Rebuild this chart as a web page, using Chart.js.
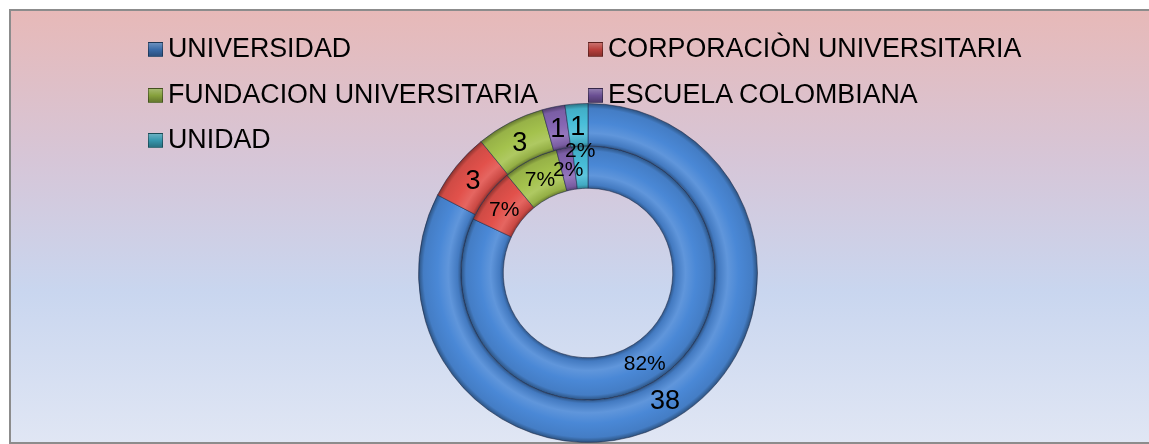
<!DOCTYPE html>
<html>
<head>
<meta charset="utf-8">
<script src="https://cdn.jsdelivr.net/npm/chart.js@4.4.0/dist/chart.umd.min.js"></script>
<style>
html,body{margin:0;padding:0;background:#fff;overflow:hidden;}
#wrap{position:relative;width:1149px;height:444px;overflow:hidden;font-family:"Liberation Sans",Arial,sans-serif;}
#frame{position:absolute;left:9px;top:9px;width:1200px;height:431px;border:2px solid #8c8c8c;border-right:none;
  background:linear-gradient(to bottom,#E7B9B8 0%,#D6C6D8 35%,#C9D6EF 65%,#E0E6F4 100%);}
#c{position:absolute;left:0;top:0;}
.mk{position:absolute;width:13px;height:13px;border:1px solid rgba(0,0,0,0.35);box-sizing:content-box;}
.tx{position:absolute;font-size:26.8px;line-height:30px;color:#000;white-space:nowrap;}
</style>
</head>
<body>
<div id="wrap">
  <div id="frame"></div>
  <canvas id="c" width="1149" height="444"></canvas>
  <div id="legend"></div>
</div>
<script>
// ---- data ----
const categories = ['UNIVERSIDAD', 'CORPORACIÒN UNIVERSITARIA', 'FUNDACION UNIVERSITARIA', 'ESCUELA COLOMBIANA', 'UNIDAD'];
const counts = [38, 3, 3, 1, 1];
const percents = [82, 7, 7, 2, 2];

// ---- styles ----
const baseColors = ['#4A88D6', '#E2514B', '#A4C24D', '#8666B3', '#48BDD8'];
const markerColors = ['#3A6BA8', '#B8403C', '#86A03C', '#6A4F93', '#3596AD'];

function shade(hex, f) {
  const n = parseInt(hex.slice(1), 16);
  let r = (n >> 16) & 255, g = (n >> 8) & 255, b = n & 255;
  if (f < 0) { r = r * (1 + f); g = g * (1 + f); b = b * (1 + f); }
  else { r = r + (255 - r) * f; g = g + (255 - g) * f; b = b + (255 - b) * f; }
  return `rgb(${Math.round(r)},${Math.round(g)},${Math.round(b)})`;
}

// legend (HTML)
const legendEl = document.getElementById('legend');
const colX = [148, 588];
const rowTop = [33, 78.5, 124];
categories.forEach((name, i) => {
  const col = i % 2, row = Math.floor(i / 2);
  const mk = document.createElement('div');
  mk.className = 'mk';
  mk.style.left = colX[col] + 'px';
  mk.style.top = (rowTop[row] + 9) + 'px';
  mk.style.background = `linear-gradient(to bottom, ${shade(markerColors[i], 0.25)} 0%, ${markerColors[i]} 50%, ${shade(markerColors[i], -0.25)} 100%)`;
  legendEl.appendChild(mk);
  const tx = document.createElement('div');
  tx.className = 'tx';
  tx.style.left = (colX[col] + 20) + 'px';
  tx.style.top = rowTop[row] + 'px';
  tx.textContent = name;
  legendEl.appendChild(tx);
});

function ringFill(ctx) {
  const i = ctx.dataIndex;
  const base = baseColors[i];
  const chart = ctx.chart;
  const a = chart.chartArea;
  const meta = chart.getDatasetMeta(ctx.datasetIndex);
  const ctrl = meta && meta.controller;
  if (!a || !ctrl || !ctrl.outerRadius) return base;
  const cx = (a.left + a.right) / 2 + (ctrl.offsetX || 0);
  const cy = (a.top + a.bottom) / 2 + (ctrl.offsetY || 0);
  const r0 = ctrl.innerRadius, r1 = ctrl.outerRadius;
  const g = chart.ctx.createRadialGradient(cx, cy, r0, cx, cy, r1);
  g.addColorStop(0, shade(base, -0.35));
  g.addColorStop(0.08, shade(base, -0.1));
  g.addColorStop(0.3, shade(base, 0.12));
  g.addColorStop(0.55, base);
  g.addColorStop(0.88, shade(base, -0.08));
  g.addColorStop(1, shade(base, -0.4));
  return g;
}

const labelPlugin = {
  id: 'ringLabels',
  afterDatasetsDraw(chart) {
    const c = chart.ctx;
    c.save();
    c.fillStyle = '#000';
    c.textAlign = 'center';
    c.textBaseline = 'middle';
    chart.data.datasets.forEach((ds, di) => {
      const meta = chart.getDatasetMeta(di);
      const fs = di === 0 ? 27 : 21;
      c.font = fs + 'px "Liberation Sans", Arial, sans-serif';
      const placed = [];
      meta.data.forEach((arc, j) => {
        const p = arc.getProps(['x', 'y', 'startAngle', 'endAngle', 'innerRadius', 'outerRadius'], true);
        const mid = (p.startAngle + p.endAngle) / 2;
        const txt = di === 0 ? String(ds.data[j]) : ds.data[j] + '%';
        const w = c.measureText(txt).width * 0.85;
        const h = fs * 0.9;
        let r = (p.innerRadius + p.outerRadius) / 2;
        let x, y, tries = 0;
        while (true) {
          x = p.x + Math.cos(mid) * r;
          y = p.y + Math.sin(mid) * r;
          const hit = placed.some(b => Math.abs(b.x - x) < (b.w + w) / 2 && Math.abs(b.y - y) < (b.h + h) / 2);
          if (!hit || tries > 60) break;
          r += 1; tries++;
        }
        placed.push({x, y, w, h});
        c.fillText(txt, x, y + fs * 0.08);
      });
    });
    c.restore();
  }
};

new Chart(document.getElementById('c'), {
  type: 'doughnut',
  data: {
    labels: categories,
    datasets: [
      { data: counts, backgroundColor: ringFill, borderColor: 'rgba(30,40,70,0.55)', borderWidth: 1 },
      { data: percents, backgroundColor: ringFill, borderColor: 'rgba(30,40,70,0.55)', borderWidth: 1 }
    ]
  },
  options: {
    responsive: false,
    animation: false,
    cutout: '50%',
    layout: { padding: { left: 418, right: 391, top: 103, bottom: 1 } },
    plugins: { legend: { display: false }, tooltip: { enabled: false } }
  },
  plugins: [labelPlugin]
});
</script>
</body>
</html>
